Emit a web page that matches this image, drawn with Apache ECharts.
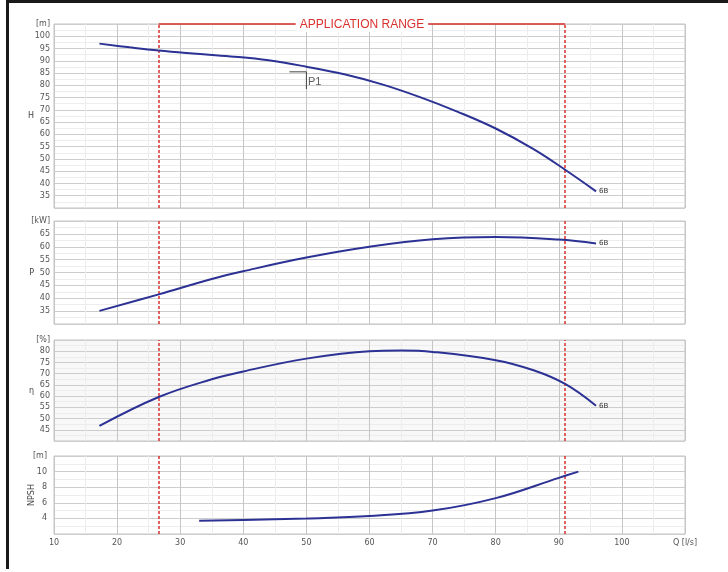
<!DOCTYPE html>
<html>
<head>
<meta charset="utf-8">
<script src="https://cdn.jsdelivr.net/npm/echarts@6/dist/echarts.min.js"></script>
<style>
  html, body { margin: 0; padding: 0; background: #fff; }
  #chart { width: 728px; height: 572px; }
</style>
</head>
<body>
<div id="chart"></div>
<script>
// Pump 6B performance curves versus flow rate Q [l/s]
const headQ      = [17.2, 22, 26.6, 32, 38, 44, 50, 56, 62, 68, 74, 80, 86, 91, 95.9];
const headH      = [97.0, 95.5, 94.2, 93.0, 91.8, 90.2, 87.6, 84.5, 80.4, 75.2, 69.2, 62.4, 54.0, 45.6, 36.8];

const powerQ     = [17.2, 26.6, 35, 40, 50, 60, 70, 80, 90, 95.9];
const powerP     = [35.1, 41.5, 47.5, 50.5, 55.8, 60.0, 62.9, 63.8, 62.8, 61.3];

const effQ       = [17.2, 26.6, 35, 40, 50, 60, 65, 70, 80, 86, 91, 95.9];
const effEta     = [46.7, 59.6, 67.5, 71.0, 76.7, 80.0, 80.3, 79.7, 76.0, 71.5, 65.4, 55.7];

const npshQ      = [33, 40, 50, 60, 70, 80, 90, 93.1];
const npshVal    = [3.7, 3.8, 4.0, 4.3, 5.0, 6.6, 9.2, 10.0];

// operating point P1
const dutyQ = 50;
const dutyH = 85.5;

// application range limits
const rangeMin = 26.6;
const rangeMax = 91;

const curveName = '6B';
const xTickMax = 110;

const panels = [
  { name: 'H',    unit: '[m]',  min: 30, max: 105, interval: 5, top: 24,  height: 184, rotate: 0,  gap: 20, margin: 4, bg: '#ffffff' },
  { name: 'P',    unit: '[kW]', min: 30, max: 70,  interval: 5, top: 221, height: 103, rotate: 0,  gap: 20, margin: 4, bg: '#ffffff' },
  { name: 'η',    unit: '[%]',  min: 40, max: 85,  interval: 5, top: 340, height: 101, rotate: 0,  gap: 20, margin: 4, bg: '#f8f8f8' },
  { name: 'NPSH', unit: '[m]',  min: 2,  max: 12,  interval: 2, top: 456, height: 78,  rotate: 90, gap: 18, margin: 7, bg: '#ffffff' }
];

const pairs = (xs, ys) => xs.map((x, i) => [x, ys[i]]);

const blue = '#2c3194';
const red = '#d8322e';
const txtFont = 'DejaVu Sans';

const grids = panels.map(p => ({
  left: 54, right: 43, top: p.top, height: p.height,
  show: true, borderColor: '#c3c3c3', borderWidth: 1, backgroundColor: p.bg
}));

const hiddenMinorTick = { show: true, splitNumber: 2, length: 0, lineStyle: { color: 'rgba(0,0,0,0)' } };

const xAxes = panels.map((p, i) => ({
  type: 'value', gridIndex: i, min: 10, max: xTickMax, interval: 10,
  axisLine: { show: false }, axisTick: { show: false },
  axisLabel: {
    show: i === panels.length - 1, fontSize: 8, color: '#555', fontFamily: txtFont, margin: 5,
    formatter: v => v === xTickMax ? 'Q [l/s]' : String(v)
  },
  splitLine: { show: true, lineStyle: { color: '#c6c6c6', width: 1 } },
  minorTick: hiddenMinorTick,
  minorSplitLine: { show: true, lineStyle: { color: '#ececec', width: 1 } }
}));

const yAxes = panels.map((p, i) => ({
  type: 'value', gridIndex: i, min: p.min, max: p.max, interval: p.interval,
  name: p.name, nameLocation: 'middle', nameGap: p.gap, nameRotate: p.rotate,
  nameMoveOverlap: false,
  nameTextStyle: { fontSize: 8, color: '#444', fontFamily: txtFont },
  axisLine: { show: false }, axisTick: { show: false },
  axisLabel: {
    fontSize: 8, color: '#555', fontFamily: txtFont, margin: p.margin,
    formatter: v => v === p.max ? p.unit : (v === p.min ? '' : String(v))
  },
  splitLine: { show: true, lineStyle: { color: '#cdcdcd', width: 1 } },
  minorTick: hiddenMinorTick,
  minorSplitLine: { show: true, lineStyle: { color: '#ededed', width: 1 } }
}));

const rangeLines = {
  silent: true, symbol: 'none', animation: false,
  label: { show: false },
  lineStyle: { color: red, type: [3, 2], width: 1.5 },
  data: [{ xAxis: rangeMin }, { xAxis: rangeMax }]
};

function curve(idx, data) {
  return {
    type: 'line', xAxisIndex: idx, yAxisIndex: idx, data: data,
    smooth: 0.4, showSymbol: false, symbol: 'none',
    lineStyle: { color: blue, width: 2 }, z: 5,
    endLabel: { show: idx < 3, formatter: curveName, fontSize: 7, color: '#333', fontFamily: txtFont, distance: 3 },
    markLine: rangeLines
  };
}

const series = [
  curve(0, pairs(headQ, headH)),
  curve(1, pairs(powerQ, powerP)),
  curve(2, pairs(effQ, effEta)),
  curve(3, pairs(npshQ, npshVal)),
  // top bar of the application range with its caption
  {
    type: 'line', xAxisIndex: 0, yAxisIndex: 0, data: [], silent: true,
    markLine: {
      silent: true, symbol: 'none', animation: false,
      lineStyle: { color: red, type: 'solid', width: 1.5 },
      label: {
        show: true, position: 'middle', formatter: 'APPLICATION RANGE',
        color: red, fontSize: 12, fontFamily: 'Liberation Sans',
        backgroundColor: '#ffffff', padding: [1, 4], offset: [0, 13]
      },
      data: [[{ coord: [rangeMin, 105] }, { coord: [rangeMax, 105] }]]
    }
  },
  // duty point P1 marker
  {
    type: 'line', xAxisIndex: 0, yAxisIndex: 0, silent: true,
    data: [[dutyQ - 2.7, dutyH], [dutyQ, dutyH], [dutyQ, dutyH - 7]],
    showSymbol: false, symbol: 'none',
    lineStyle: { color: '#444', width: 1 }, z: 4
  },
  {
    type: 'scatter', xAxisIndex: 0, yAxisIndex: 0, silent: true,
    data: [[dutyQ, dutyH - 4.2]], symbolSize: 1,
    itemStyle: { color: 'rgba(0,0,0,0)' },
    label: { show: true, formatter: 'P1', position: 'right', distance: 1, color: '#333', fontSize: 11, fontFamily: 'Liberation Sans' }
  }
];

const chart = echarts.init(document.getElementById('chart'), null, { renderer: 'canvas' });
chart.setOption({
  animation: false,
  backgroundColor: '#ffffff',
  grid: grids,
  xAxis: xAxes,
  yAxis: yAxes,
  series: series,
  graphic: [
    { type: 'rect', shape: { x: 6, y: 0, width: 722, height: 3 }, style: { fill: '#1a1a1a' }, silent: true },
    { type: 'rect', shape: { x: 6, y: 0, width: 3, height: 569 }, style: { fill: '#1a1a1a' }, silent: true }
  ]
});
</script>
</body>
</html>
